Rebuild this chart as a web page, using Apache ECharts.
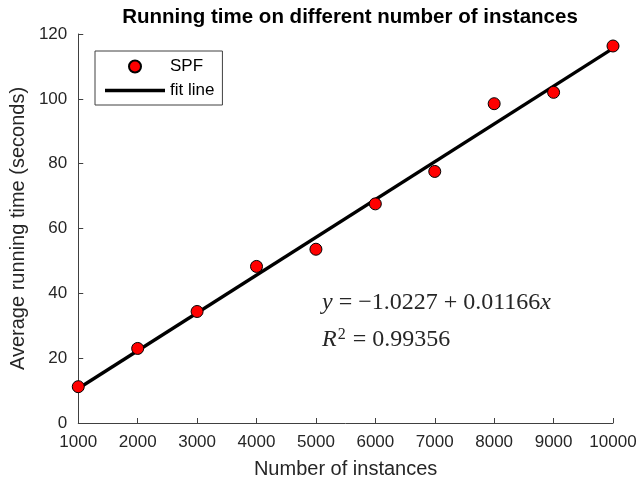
<!DOCTYPE html>
<html>
<head>
<meta charset="utf-8">
<script src="https://cdn.jsdelivr.net/npm/echarts@6/dist/echarts.min.js"></script>
<style>html,body{margin:0;padding:0;background:#fff}#c{width:640px;height:486px}</style>
</head>
<body>
<div id="c"></div>
<script>
// Data
var instances = [1000, 2000, 3000, 4000, 5000, 6000, 7000, 8000, 9000, 10000];
var runningTime = [11.2, 23.0, 34.4, 48.3, 53.6, 67.6, 77.6, 98.5, 102.0, 116.3];
var fitX = [1000, 10000];
var fitY = [10.64, 115.58];
var xTicks = [1000, 2000, 3000, 4000, 5000, 6000, 7000, 8000, 9000, 10000];
var yTicks = [0, 20, 40, 60, 80, 100, 120];

var chart = echarts.init(document.getElementById('c'), null, {renderer: 'canvas'});
var axisColor = '#404040';
var sans = 'Liberation Sans, Arial, sans-serif';
var serif = 'Liberation Serif, Times New Roman, serif';

chart.setOption({
  animation: false,
  backgroundColor: '#fff',
  title: {
    text: 'Running time on different number of instances',
    left: 345, top: 2, textAlign: 'center',
    textStyle: {fontFamily: sans, fontWeight: 'bold', fontSize: 20.5, color: '#000'}
  },
  grid: {left: 77, right: 27, top: 34, bottom: 63, containLabel: false},
  legend: {
    left: 95, top: 51, orient: 'vertical',
    itemWidth: 60, itemHeight: 12, itemGap: 7,
    padding: [7, 8, 6, 10],
    borderColor: '#404040', borderWidth: 1, backgroundColor: '#fff',
    textStyle: {fontFamily: sans, fontSize: 17, color: '#000', lineHeight: 17},
    data: [
      {name: 'SPF'},
      {name: 'fit line', icon: 'path://M0,0L60,0L60,3.3L0,3.3Z'}
    ]
  },
  xAxis: {
    type: 'value', min: xTicks[0], max: xTicks[xTicks.length - 1], interval: 1000,
    name: 'Number of instances', nameLocation: 'middle', nameGap: 36,
    nameTextStyle: {fontFamily: sans, fontSize: 20, color: '#262626'},
    axisLine: {show: true, onZero: false, lineStyle: {color: axisColor, width: 1}},
    axisTick: {show: true, inside: true, length: 5, lineStyle: {color: axisColor}},
    axisLabel: {fontFamily: sans, fontSize: 17, color: '#262626', margin: 11,
      formatter: function (v) { return String(v); }},
    splitLine: {show: false}
  },
  yAxis: {
    type: 'value', min: yTicks[0], max: yTicks[yTicks.length - 1], interval: 20,
    name: 'Average running time (seconds)', nameLocation: 'middle', nameGap: 47,
    nameTextStyle: {fontFamily: sans, fontSize: 20, color: '#262626'},
    axisLine: {show: true, onZero: false, lineStyle: {color: axisColor, width: 1}},
    axisTick: {show: true, inside: true, length: 5, lineStyle: {color: axisColor}},
    axisLabel: {fontFamily: sans, fontSize: 17, color: '#262626', margin: 11,
      formatter: function (v) { return String(v); }},
    splitLine: {show: false}
  },
  series: [
    {
      name: 'fit line', type: 'line', z: 2,
      data: fitX.map(function (x, i) { return [x, fitY[i]]; }),
      symbol: 'none', showSymbol: false,
      lineStyle: {color: '#000', width: 3.3},
      itemStyle: {color: '#000'}
    },
    {
      name: 'SPF', type: 'scatter', z: 3,
      data: instances.map(function (x, i) { return [x, runningTime[i]]; }),
      symbol: 'circle', symbolSize: 12,
      itemStyle: {color: '#ff0000', borderColor: '#000', borderWidth: 1, opacity: 1}
    }
  ],
  graphic: [
    {
      type: 'text', left: 322, top: 291, z: 10,
      style: {
        text: '{i|y} = \u22121.0227 + 0.01166{i|x}',
        fontFamily: serif, fontSize: 24, fill: '#262626',
        rich: {i: {fontFamily: serif, fontStyle: 'italic', fontSize: 24, fill: '#262626'}}
      }
    },
    {
      type: 'text', left: 322, top: 327, z: 10,
      style: {
        text: '{i|R}{s|2} = 0.99356',
        fontFamily: serif, fontSize: 24, fill: '#262626',
        rich: {
          i: {fontFamily: serif, fontStyle: 'italic', fontSize: 24, fill: '#262626'},
          s: {fontFamily: serif, fontSize: 16, fill: '#262626', verticalAlign: 'top', padding: [0, 1, 10, 1]}
        }
      }
    }
  ]
});
</script>
</body>
</html>
